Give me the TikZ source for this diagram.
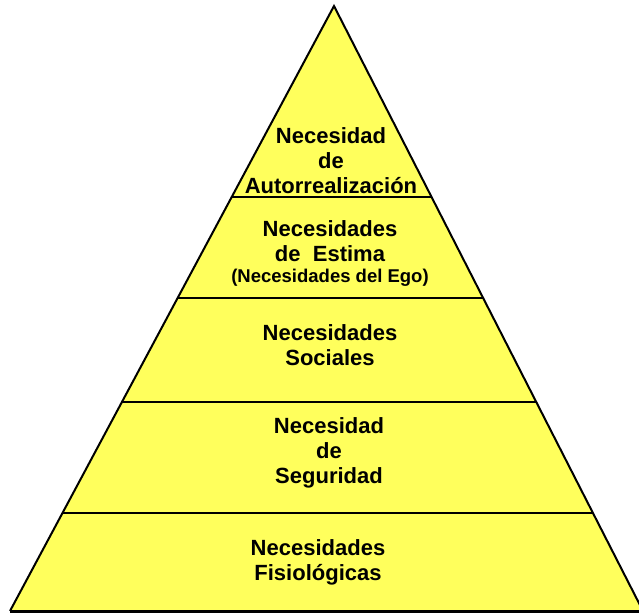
\documentclass[tikz,border=0pt]{standalone}
\usepackage{fontspec}
\setmainfont{Liberation Sans}
\usetikzlibrary{calc}
\definecolor{pyryellow}{HTML}{FFFF5C}

\begin{document}
\begin{tikzpicture}[x=1pt,y=-1pt,
  tier/.style={font=\bfseries\fontsize{22}{25}\selectfont, align=center, inner sep=0pt, anchor=base},
  divider/.style={line width=1.3pt},
  outline/.style={line width=2pt, line join=miter}
]
  \clip (0,0) rectangle (639,614);
  \coordinate (top) at (334,6);
  \coordinate (bl) at (10,611);
  \coordinate (br) at (643,611);

  % pyramid body
  \fill[pyryellow] (top) -- (bl) -- (br) -- cycle;

  % level dividers
  \draw[divider] ($(top)!0.3157!(bl)$) -- ($(top)!0.3157!(br)$);
  \draw[divider] ($(top)!0.4826!(bl)$) -- ($(top)!0.4826!(br)$);
  \draw[divider, line width=2pt] ($(top)!0.6545!(bl)$) -- ($(top)!0.6545!(br)$);
  \draw[divider] ($(top)!0.838!(bl)$) -- ($(top)!0.838!(br)$);

  \draw[outline] (bl) -- (top) -- (br);
  \draw[line width=3pt] (bl) -- (br);

  \node[tier] (autorr) at (331,193) {Necesidad\\de\\Autorrealización};
  \node[tier] (estima) at (330,282) {Necesidades\\de~~Estima\\[-4pt]{\fontsize{18.5}{20}\selectfont (Necesidades del Ego)}};
  \node[tier] (social) at (330,365) {Necesidades\\Sociales};
  \node[tier] (segur) at (329,483) {Necesidad\\de\\Seguridad};
  \node[tier] (fisio) at (318,580) {Necesidades\\Fisiológicas};
\end{tikzpicture}
\end{document}
